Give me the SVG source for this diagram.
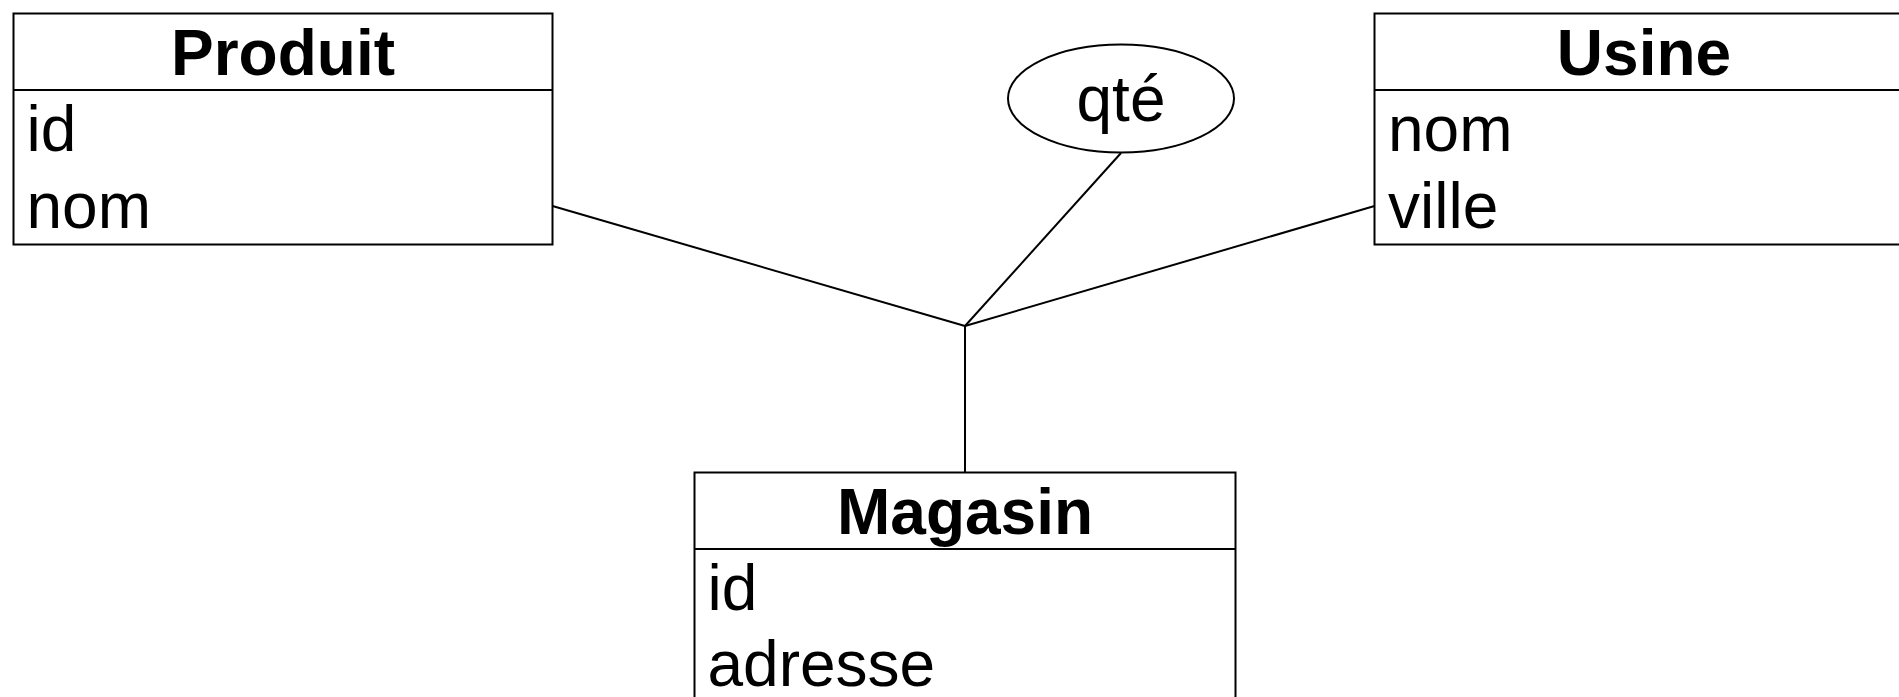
<svg xmlns="http://www.w3.org/2000/svg" width="1899" height="697" viewBox="0 0 1899 697">
<style>
.box{fill:#fff;stroke:#000;stroke-width:2}
.sep{stroke:#000;stroke-width:2}
.conn{stroke:#000;stroke-width:2;fill:none}
.title{font-family:"Liberation Sans",Arial,sans-serif;font-weight:bold;font-size:64px;text-anchor:middle;fill:#000}
.attr{font-family:"Liberation Sans",Arial,sans-serif;font-size:64px;fill:#000}
</style>
<rect width="1899" height="697" fill="#fff"/>
<g id="connectors">
<line class="conn" x1="552.5" y1="206" x2="965" y2="326"/>
<line class="conn" x1="1374.5" y1="206" x2="965" y2="326"/>
<line class="conn" x1="1121" y1="153" x2="965" y2="326"/>
<line class="conn" x1="965" y1="326" x2="965" y2="472"/>
</g>
<g id="produit">
<rect class="box" x="13.5" y="13.5" width="539" height="231"/>
<line class="sep" x1="13.5" y1="90" x2="552.5" y2="90"/>
<text class="title" x="283" y="75">Produit</text>
<text class="attr" x="26.5" y="151">id</text>
<text class="attr" x="26.5" y="228">nom</text>
</g>
<g id="usine">
<rect class="box" x="1374.5" y="13.5" width="539" height="231"/>
<line class="sep" x1="1374.5" y1="90" x2="1913.5" y2="90"/>
<text class="title" x="1644" y="75">Usine</text>
<text class="attr" x="1388" y="151">nom</text>
<text class="attr" x="1388" y="228">ville</text>
</g>
<g id="magasin">
<rect class="box" x="694.5" y="472.5" width="541" height="260"/>
<line class="sep" x1="694.5" y1="549" x2="1235.5" y2="549"/>
<text class="title" x="965" y="534">Magasin</text>
<text class="attr" x="707.5" y="610">id</text>
<text class="attr" x="707.5" y="686">adresse</text>
</g>
<g id="qte">
<ellipse class="box" cx="1121" cy="98.5" rx="113" ry="54"/>
<text class="attr" x="1121" y="121" text-anchor="middle">qté</text>
</g>
</svg>
